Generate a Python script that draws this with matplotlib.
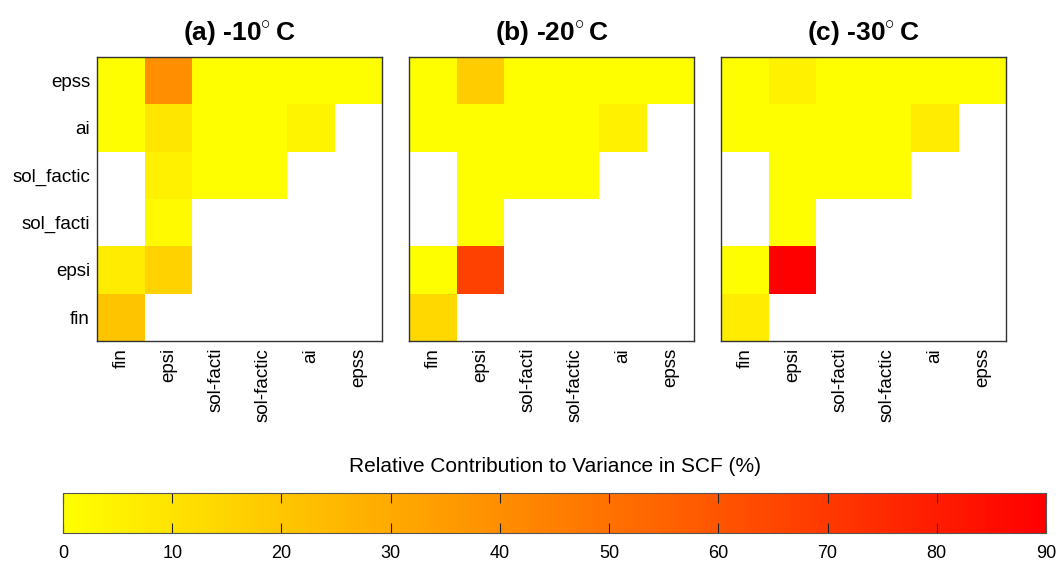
import numpy as np
import matplotlib
matplotlib.use("Agg")
import matplotlib.pyplot as plt

plt.rcParams['font.family'] = ['Liberation Sans', 'DejaVu Sans']
plt.rcParams['mathtext.fontset'] = 'custom'
plt.rcParams['mathtext.rm'] = 'Liberation Sans'
plt.rcParams['mathtext.bf'] = 'Liberation Sans:bold'

#####################################################
# rows listed bottom -> top, columns left -> right

row_labels = ['fin', 'epsi', 'sol_facti', 'sol_factic', 'ai', 'epss']
col_labels = ['fin', 'epsi', 'sol-facti', 'sol-factic', 'ai', 'epss']
titles = [r'(a) -10$^{\circ}\,$C', r'(b) -20$^{\circ}\,$C', r'(c) -30$^{\circ}\,$C']
n = np.nan

contrib_10 = [
    [21,  n,   n,   n,   n,   n],
    [7,   16,  n,   n,   n,   n],
    [n,   2,   n,   n,   n,   n],
    [n,   5,   0.5, 0.5, n,   n],
    [0.5, 9,   0.5, 0.5, 4,   n],
    [0.5, 40,  0.5, 0.5, 0.5, 0.5],
]
contrib_20 = [
    [14,  n,   n,   n,   n,   n],
    [0.5, 67,  n,   n,   n,   n],
    [n,   0.5, n,   n,   n,   n],
    [n,   0.5, 0.5, 0.5, n,   n],
    [0.5, 0.5, 0.5, 0.5, 5,   n],
    [0.5, 18,  0.5, 0.5, 0.5, 0.5],
]
contrib_30 = [
    [7,   n,   n,   n,   n,   n],
    [0.5, 90,  n,   n,   n,   n],
    [n,   0.5, n,   n,   n,   n],
    [n,   0.5, 0.5, 0.5, n,   n],
    [0.5, 0.5, 0.5, 0.5, 7,   n],
    [0.5, 5,   0.5, 0.5, 0.5, 0.5],
]
cbar_ticks = [0, 10, 20, 30, 40, 50, 60, 70, 80, 90]

#####################################################

fig = plt.figure(figsize=(10.63, 5.64), dpi=100)
lefts = [97, 409, 721]
cmap = plt.get_cmap('autumn_r')

for k, data in enumerate([contrib_10, contrib_20, contrib_30]):
    ax = fig.add_axes([lefts[k] / 1063, 1 - 341 / 564, 285 / 1063, 284 / 564])
    arr = np.ma.masked_invalid(np.array(data, dtype=float))
    mesh = ax.pcolormesh(np.arange(7), np.arange(7), arr, cmap=cmap, vmin=0, vmax=90)
    ax.set_xlim(0, 6)
    ax.set_ylim(0, 6)
    ax.set_xticks(np.arange(6) + 0.5)
    ax.set_xticklabels(col_labels, rotation=90, fontsize=13.5)
    ax.set_yticks(np.arange(6) + 0.5)
    if k == 0:
        ax.set_yticklabels(row_labels, fontsize=13.5)
    else:
        ax.set_yticklabels([])
    ax.tick_params(length=0, pad=5)
    for s in ax.spines.values():
        s.set_color('#333333')
        s.set_linewidth(1.0)
    ax.set_title(titles[k], fontsize=19, fontweight='bold', pad=12)

cax = fig.add_axes([63 / 1063, 1 - 533 / 564, 983 / 1063, 40 / 564])
cb = fig.colorbar(mesh, cax=cax, orientation='horizontal', ticks=cbar_ticks)
cax.tick_params(direction='in', length=7, width=0.8, top=True, bottom=True,
                labeltop=False, labelbottom=True, labelsize=13, pad=9, color='#222222')
cb.outline.set_edgecolor('#555555')
fig.text(555 / 1063, 1 - 466 / 564, 'Relative Contribution to Variance in SCF (%)',
         ha='center', va='center', fontsize=15)

fig.savefig('out.png', dpi=100)
